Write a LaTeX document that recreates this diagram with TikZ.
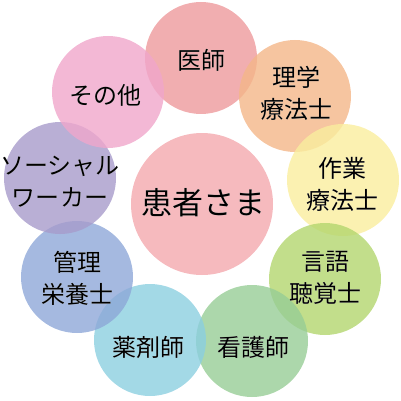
\documentclass[tikz,border=0pt]{standalone}
\usepackage{fontspec}
\setmainfont{Noto Sans CJK JP}
\usepackage[outline]{contour}
\contourlength{1.2pt}
\definecolor{cIshi}{HTML}{EE9A9C}
\definecolor{cRigaku}{HTML}{F4B688}
\definecolor{cSagyo}{HTML}{FAEE9E}
\definecolor{cGengo}{HTML}{B3D66E}
\definecolor{cKango}{HTML}{97CD96}
\definecolor{cYaku}{HTML}{8CCFE0}
\definecolor{cEiyo}{HTML}{8EA8D8}
\definecolor{cSocial}{HTML}{A79BCB}
\definecolor{cSonota}{HTML}{F0A6CB}
\definecolor{cKanja}{HTML}{F4AEB3}
\tikzset{
  role/.style={circle, minimum size=112pt, inner sep=0pt, fill opacity=0.8, text opacity=1},
  rolelabel/.style={align=center, font=\fontsize{24pt}{32pt}\selectfont, inner sep=0pt},
}
\newcommand{\halo}[1]{\contour{white}{#1}}
\begin{document}
\begin{tikzpicture}[x=1pt,y=-1pt]
  \useasboundingbox (0,0) rectangle (401,401);
  \path
    (201,58) node[role, fill=cIshi] (ishi){}
    (295,96) node[role, fill=cRigaku] (rigaku){}
    (343,180) node[role, fill=cSagyo] (sagyo){}
    (325,279) node[role, fill=cGengo] (gengo){}
    (252,341) node[role, fill=cKango] (kango){}
    (150,340) node[role, fill=cYaku] (yaku){}
    (77,277) node[role, fill=cEiyo] (eiyo){}
    (60,178) node[role, fill=cSocial] (social){}
    (108,92) node[role, fill=cSonota] (sonota){};
  \node[circle, minimum size=142pt, inner sep=0pt, fill=cKanja, fill opacity=0.85] (kanja) at (202,204) {};
  \begin{scope}[every node/.style={rolelabel}]
    \node (ishiText) at (201,60) {\halo{医師}};
    \node (rigakuText) at (296,93) {\halo{理学}\\\halo{療法士}};
    \node (sagyoText) at (342,184) {\halo{作業}\\\halo{療法士}};
    \node (gengoText) at (325,278) {\halo{言語}\\\halo{聴覚士}};
    \node (kangoText) at (253,347) {\halo{看護師}};
    \node (yakuText) at (148,347) {\halo{薬剤師}};
    \node (eiyoText) at (77,278) {\halo{管理}\\\halo{栄養士}};
    \node (socialText) at (60,182) {\halo{ソーシャル}\\\halo{ワーカー}};
    \node (sonotaText) at (105,95) {\halo{その他}};
    \node[font=\fontsize{31pt}{36pt}\selectfont] (kanjaText) at (203,203) {\halo{患者さま}};
  \end{scope}
\end{tikzpicture}
\end{document}
